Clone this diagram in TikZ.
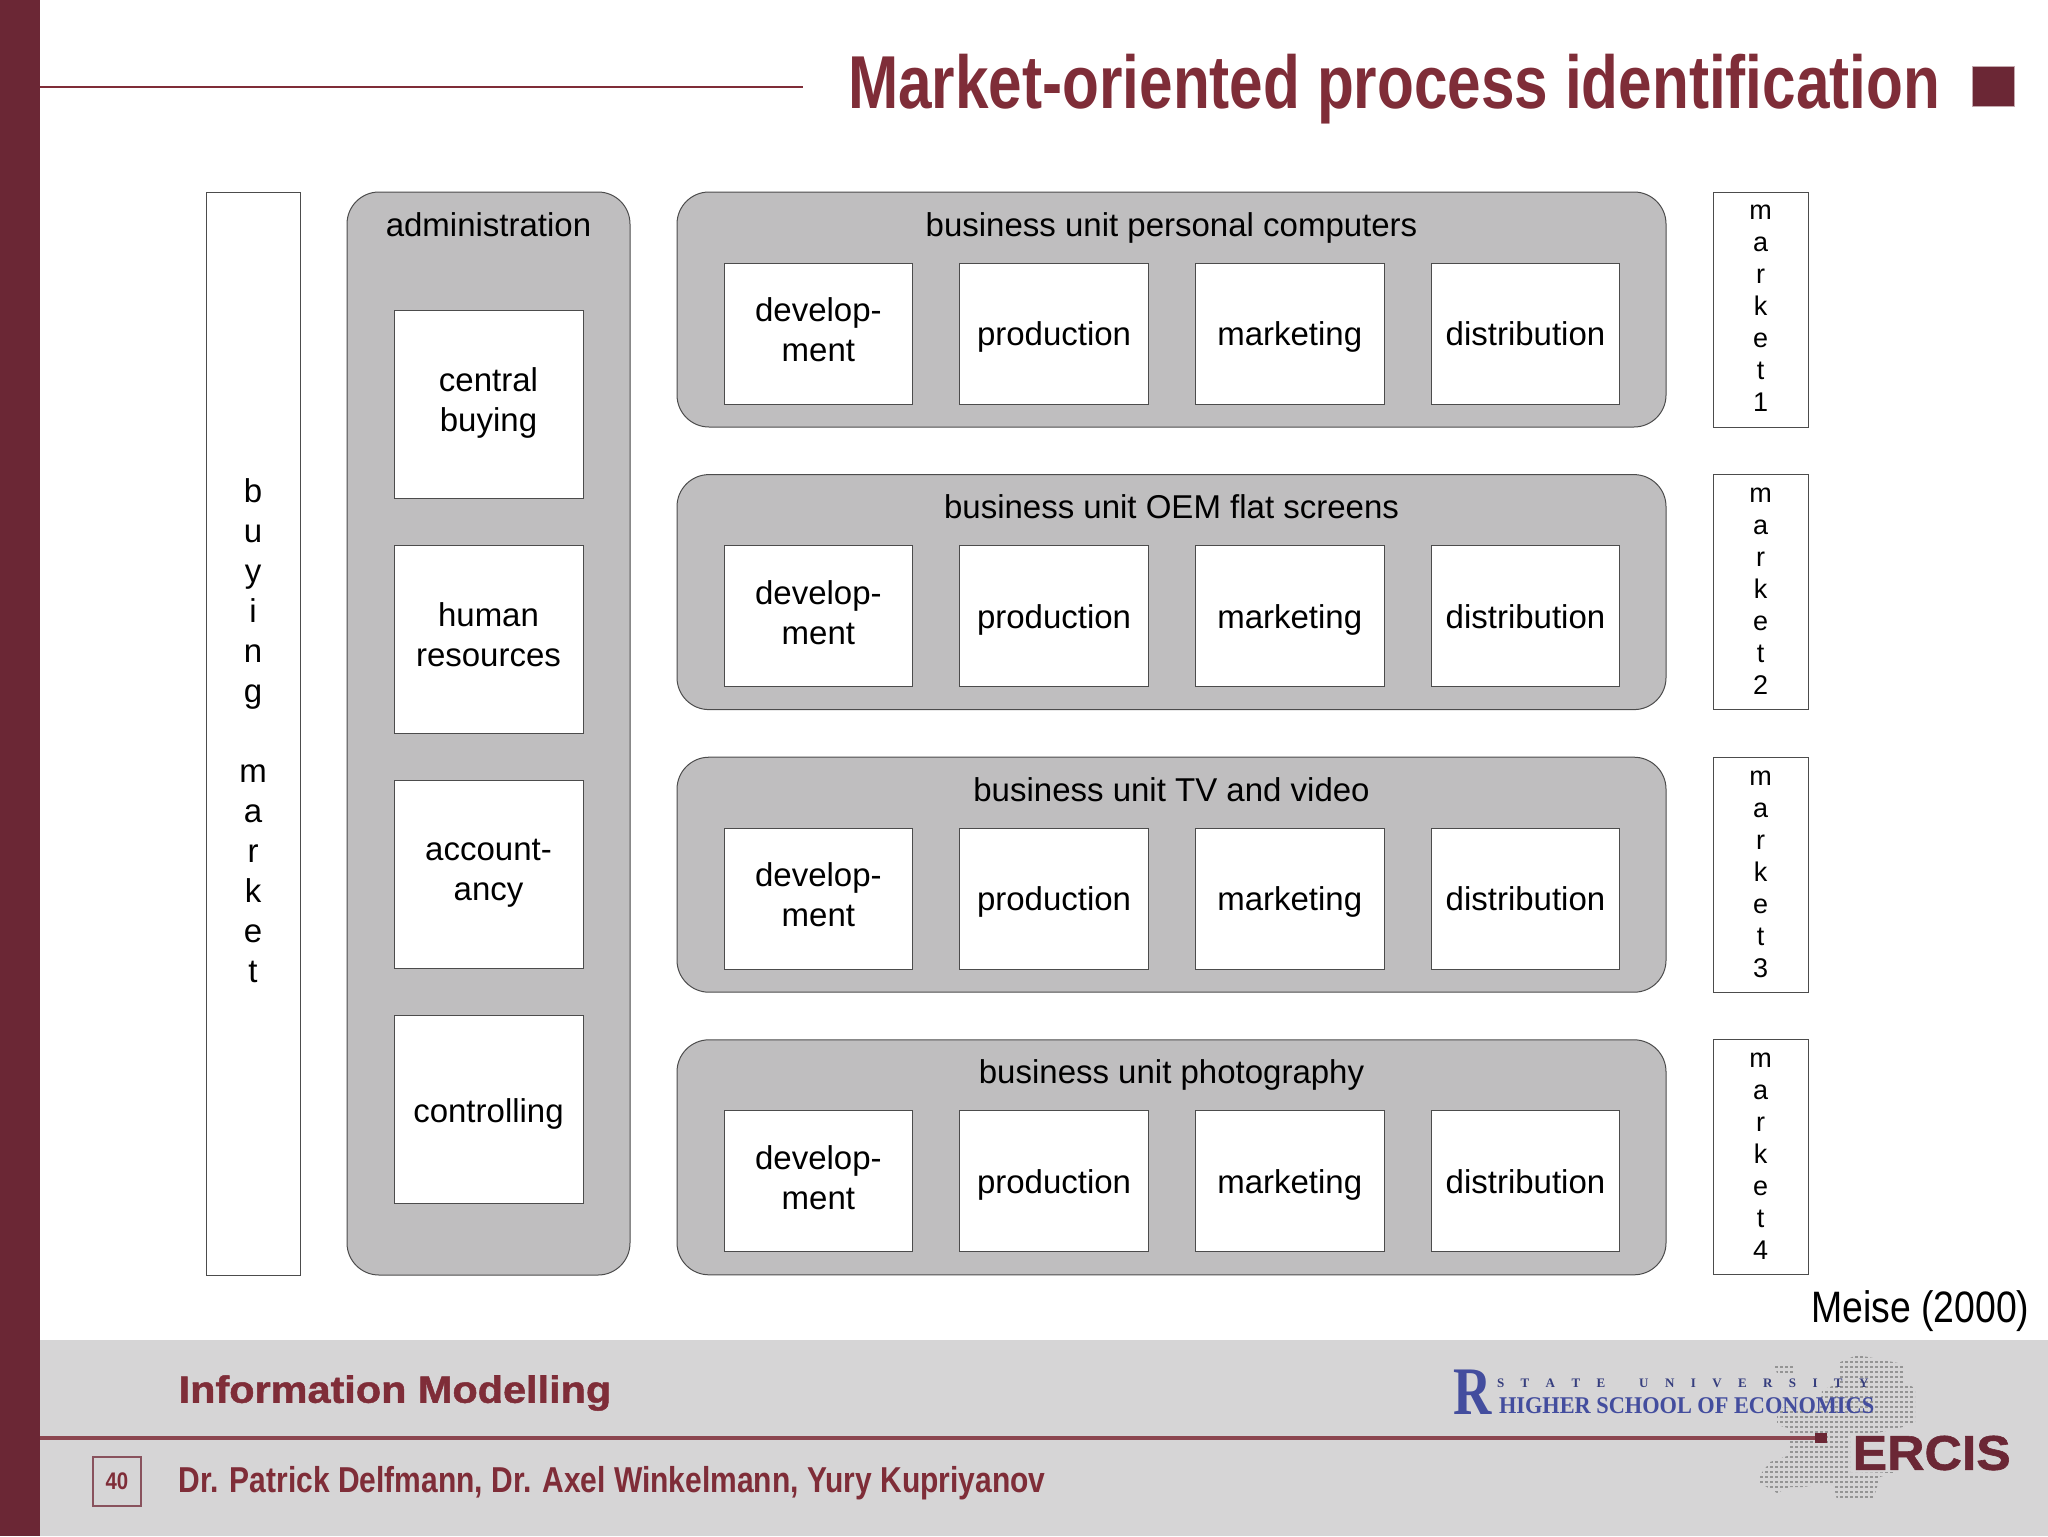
\documentclass[tikz,border=0pt]{standalone}
\usepackage{fontspec}
\usepackage{graphicx}
\setmainfont{Liberation Sans}
\newfontfamily\hsefont{Liberation Serif}
\newfontfamily\heavyfont[BoldFeatures={FakeBold=1.2}]{Liberation Sans}
\usetikzlibrary{positioning}
\definecolor{maroon}{HTML}{6B2735}
\definecolor{titlered}{HTML}{7F2D38}
\definecolor{footgray}{HTML}{D6D5D6}
\definecolor{unitgray}{HTML}{BFBEBF}
\definecolor{hseblue}{HTML}{434D9E}
\newcommand{\narrowtext}[2]{\scalebox{#1}[1]{#2}}
\begin{document}
\begin{tikzpicture}[x=0.5pt,y=-0.5pt,node distance=23.5pt,
    every node/.style={outer sep=0pt,font=\fontsize{16.5}{20}\selectfont},
    strut node/.style 2 args={execute at begin node={\rule{0pt}{#1}},execute at end node={\rule[-#2]{0pt}{#2}}},
    task node/.style={rectangle,strut node={16pt}{4pt},draw=black!70,line width=0.5pt,fill=white,minimum width=94.35pt,minimum height=70.5pt,align=center,inner sep=0pt},
    admin node/.style={task node,strut node={17pt}{3pt},minimum width=94.5pt,minimum height=94pt},
    unit node/.style={rectangle,rounded corners=16pt,draw=black!70,line width=0.5pt,fill=unitgray,minimum width=494.5pt,minimum height=117.5pt,inner sep=0pt},
    unit label/.style={strut node={14pt}{6pt},inner sep=0pt},
    market node/.style={rectangle,strut node={15.2pt}{0.8pt},draw=black!70,line width=0.5pt,fill=white,minimum width=47.5pt,minimum height=117.5pt,align=center,inner sep=0pt,font=\fontsize{13.5}{16}\selectfont}]
  \useasboundingbox (0,0) rectangle (2048,1536);
  % frame
  \fill[footgray] (40,1340) rectangle (2048,1536);
  \fill[maroon] (0,0) rectangle (40,1536);
  \coordinate (head start) at (40,87.5);
  \coordinate (head end) at (803,87.5);
  \draw[titlered,line width=1pt] (head start) -- (head end);
  \node[anchor=east,text=titlered,font=\bfseries\fontsize{37.5}{42}\selectfont] (title) at (1947,89) {\narrowtext{0.804}{Market-oriented process identification}};
  \node[rectangle,fill=maroon,draw=maroon!40,line width=0.5pt,minimum width=21pt,minimum height=20pt,inner sep=0pt] (bullet) at (1993,87) {};

  % buying market
  \node[rectangle,strut node={16.6pt}{3.4pt},draw=black!70,line width=0.5pt,fill=white,minimum width=47pt,minimum height=541.5pt,align=center,inner sep=0pt,font=\fontsize{16.5}{20}\selectfont] (buying) at (253,733.5) {b\\u\\y\\i\\n\\g\\[20pt]m\\a\\r\\k\\e\\t};

  % administration
  \node[unit node,minimum width=141.5pt,minimum height=541.5pt] (admin) [right=23.5pt of buying] {};
  \node[unit label] (admin title) [below=8pt of admin.north] {administration};
  \node[admin node] (buy) [below=59pt of admin.north] {central\\buying};
  \node[admin node] (hr) [below=of buy] {human\\resources};
  \node[admin node] (acc) [below=of hr] {account-\\ancy};
  \node[admin node] (ctrl) [below=of acc] {controlling};

  % business units
  \node[unit node,anchor=north west] (unit1) at (677,192) {};
  \node[unit node] (unit2) [below=23.8pt of unit1] {};
  \node[unit node] (unit3) [below=23.8pt of unit2] {};
  \node[unit node] (unit4) [below=23.8pt of unit3] {};
  \node[unit label] (title1) [below=8pt of unit1.north] {business unit personal computers};
  \node[unit label] (title2) [below=8pt of unit2.north] {business unit OEM flat screens};
  \node[unit label] (title3) [below=8pt of unit3.north] {business unit TV and video};
  \node[unit label] (title4) [below=8pt of unit4.north] {business unit photography};

  \node[task node,anchor=south west] (dev1) at ([xshift=23.5pt,yshift=11.5pt]unit1.south west) {develop-\\ment};
  \node[task node] (prod1) [right=of dev1] {production};
  \node[task node] (mark1) [right=of prod1] {marketing};
  \node[task node] (dist1) [right=of mark1] {distribution};

  \node[task node,anchor=south west] (dev2) at ([xshift=23.5pt,yshift=11.5pt]unit2.south west) {develop-\\ment};
  \node[task node] (prod2) [right=of dev2] {production};
  \node[task node] (mark2) [right=of prod2] {marketing};
  \node[task node] (dist2) [right=of mark2] {distribution};

  \node[task node,anchor=south west] (dev3) at ([xshift=23.5pt,yshift=11.5pt]unit3.south west) {develop-\\ment};
  \node[task node] (prod3) [right=of dev3] {production};
  \node[task node] (mark3) [right=of prod3] {marketing};
  \node[task node] (dist3) [right=of mark3] {distribution};

  \node[task node,anchor=south west] (dev4) at ([xshift=23.5pt,yshift=11.5pt]unit4.south west) {develop-\\ment};
  \node[task node] (prod4) [right=of dev4] {production};
  \node[task node] (mark4) [right=of prod4] {marketing};
  \node[task node] (dist4) [right=of mark4] {distribution};

  % markets
  \node[market node] (market1) [right=of unit1] {m\\a\\r\\k\\e\\t\\1};
  \node[market node] (market2) [right=of unit2] {m\\a\\r\\k\\e\\t\\2};
  \node[market node] (market3) [right=of unit3] {m\\a\\r\\k\\e\\t\\3};
  \node[market node] (market4) [right=of unit4] {m\\a\\r\\k\\e\\t\\4};

  \node[anchor=east,font=\fontsize{22}{26}\selectfont] (source) at (2036,1311) {\narrowtext{0.85}{Meise (2000)}};

  % footer
  \node[anchor=west,text=titlered,font=\heavyfont\bfseries\fontsize{19}{22}\selectfont] (course) at (172,1393) {\scalebox{1.09}[1]{Information Modelling}};
  \node[anchor=west,text=titlered,font=\bfseries\fontsize{18}{22}\selectfont] (authors) at (172,1483) {\narrowtext{0.833}{Dr. Patrick Delfmann, Dr. Axel Winkelmann, Yury Kupriyanov}};
  \node[rectangle,draw=maroon!80,line width=1pt,minimum width=24pt,minimum height=24.5pt,inner sep=0pt,text=titlered,font=\bfseries\fontsize{12}{14}\selectfont] (page) at (117,1481.5) {\narrowtext{0.85}{40}};

  % map of europe
  \begin{scope}
    \clip (1773,1363) -- (1793,1363) -- (1793,1373) -- (1777,1373) -- cycle
      (1838,1363) -- (1857,1355) -- (1868,1357) -- (1903,1364) -- (1903,1382) -- (1915,1388) -- (1915,1422) -- (1903,1427) -- (1877,1433) -- (1850,1433) -- (1850,1473) -- (1895,1472) -- (1880,1477) -- (1877,1487) -- (1873,1500) -- (1837,1500) -- (1833,1483) -- (1803,1487) -- (1790,1487) -- (1777,1493) -- (1760,1483) -- (1760,1475) -- (1770,1462) -- (1790,1455) -- (1790,1443) -- (1788,1428) -- (1777,1425) -- (1777,1413) -- (1783,1407) -- (1820,1410) -- (1822,1390) -- (1840,1383) -- cycle;
    \foreach \y in {1352,1357,...,1502}
      \draw[black!42,line width=1.3pt,dash pattern=on 1.6pt off 0.9pt] (1750,\y) -- (1930,\y);
  \end{scope}
  \coordinate (rule start) at (40,1438);
  \node[rectangle,fill=maroon,minimum width=6pt,minimum height=5pt,inner sep=0pt] (rule end) at (1821,1438) {};
  \draw[titlered!85!footgray,line width=2pt] (rule start) -- (rule end);
  \node[anchor=west,text=maroon,font=\heavyfont\bfseries\fontsize{24.4}{28}\selectfont] (ercis) at (1846,1453) {\scalebox{1.06}[1]{ERCIS}};
  \node[anchor=west,text=hseblue,font=\hsefont\bfseries\fontsize{12}{14}\selectfont,inner sep=0pt] (hse) at (1499,1406) {\narrowtext{0.93}{HIGHER SCHOOL OF ECONOMICS}};
  \node[anchor=west,text=hseblue!80!black,font=\hsefont\bfseries\fontsize{6.5}{8}\selectfont,inner sep=0pt] (state) at (1497,1383) {S\hspace{8.2pt}T\hspace{8.2pt}A\hspace{8.2pt}T\hspace{8.2pt}E\hspace{17pt}U\hspace{8.2pt}N\hspace{8.2pt}I\hspace{8.2pt}V\hspace{8.2pt}E\hspace{8.2pt}R\hspace{8.2pt}S\hspace{8.2pt}I\hspace{8.2pt}T\hspace{8.2pt}Y};
  \node[anchor=west,text=hseblue,font=\hsefont\bfseries\fontsize{34}{36}\selectfont,inner sep=0pt] (hse mark) at (1453,1392) {\narrowtext{0.78}{R}};
\end{tikzpicture}
\end{document}
